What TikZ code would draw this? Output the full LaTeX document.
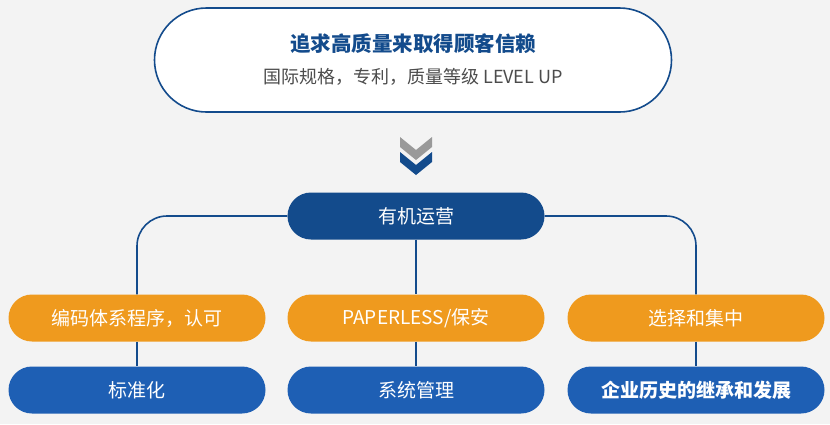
\documentclass[tikz,border=0pt]{standalone}
\usepackage{fontspec}
\setmainfont{Noto Sans CJK SC}
\usetikzlibrary{positioning}
\definecolor{navy}{HTML}{134B8C}
\definecolor{midblue}{HTML}{1E5FB4}
\definecolor{amber}{HTML}{EF9A1E}
\definecolor{bggray}{HTML}{F3F3F3}
\begin{document}
\begin{tikzpicture}[x=1pt,y=-1pt,
pillnode/.style={rounded corners=23.5pt, minimum width=257pt, minimum height=47pt, text=white, font=\fontsize{19}{22}\selectfont},
topnode/.style={pillnode, fill=navy},
ornode/.style={pillnode, fill=amber},
bluenode/.style={pillnode, fill=midblue},
link/.style={draw=navy, line width=1.6pt}
]
\fill[bggray] (0,0) rectangle (830,424);
\useasboundingbox (0,0) rectangle (830,424);
% Goal box
\node[draw=navy, line width=1.6pt, fill=white, rounded corners=52pt, minimum width=517pt, minimum height=104pt] (goal) at (413,60) {};
\node[text=navy, font=\bfseries\fontsize{20.5}{24}\selectfont] (title) at (413,44) {追求高质量来取得顾客信赖};
\node[text=black!70, font=\fontsize{18}{21}\selectfont] (sub) at (413,77) {国际规格，专利，质量等级 LEVEL UP};
% Chevrons
\fill[gray!80] (400,137) -- (416,150) -- (432,137) -- (432,147) -- (416,160) -- (400,147) -- cycle;
\fill[navy] (400,152) -- (416,165) -- (432,152) -- (432,162) -- (416,175) -- (400,162) -- cycle;
% Nodes
\node[topnode] (ops) at (416,216) {有机运营};
\node[ornode] (o1) at (137,318) {编码体系程序，认可};
\node[ornode] (o2) at (416,318) {PAPERLESS/保安};
\node[ornode] (o3) at (696,318) {选择和集中};
\node[bluenode] (b1) at (137,390) {标准化};
\node[bluenode] (b2) at (416,390) {系统管理};
\node[bluenode, font=\bfseries\fontsize{19}{22}\selectfont] (b3) at (696,390) {企业历史的继承和发展};
% Lines
\draw[link, rounded corners=30pt] (ops.west) -| (o1.north);
\draw[link, rounded corners=30pt] (ops.east) -| (o3.north);
\draw[link] (ops.south) -- (o2.north);
\draw[link] (o1.south) -- (b1.north);
\draw[link] (o2.south) -- (b2.north);
\draw[link] (o3.south) -- (b3.north);
\end{tikzpicture}
\end{document}
